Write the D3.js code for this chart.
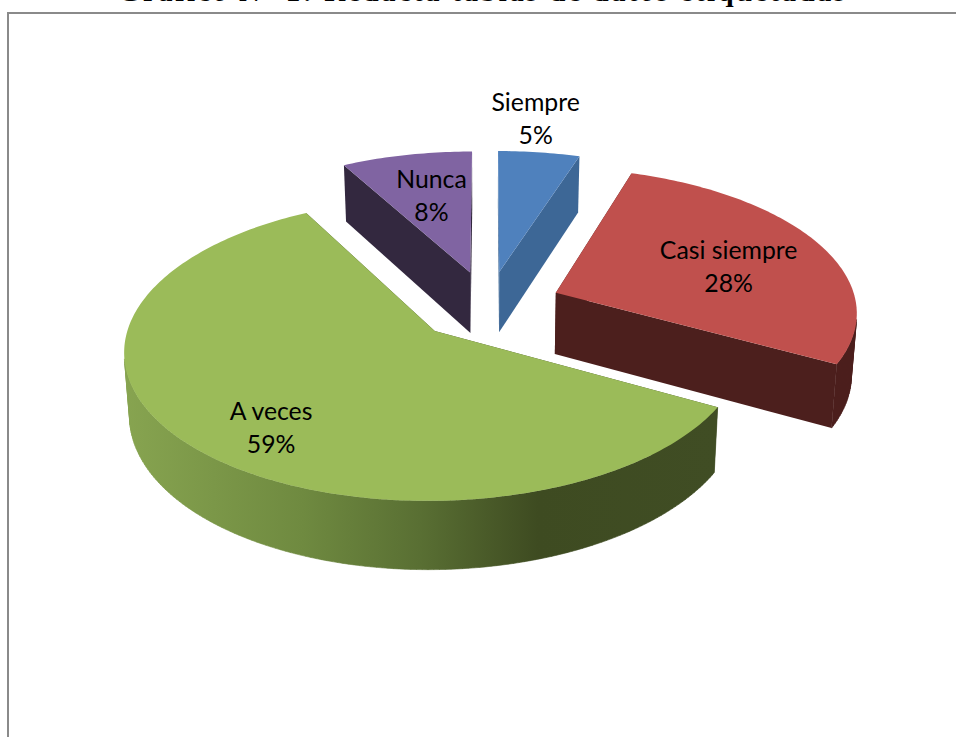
<!DOCTYPE html>
<html lang="es">
<head>
<meta charset="utf-8">
<title>Gráfico</title>
<script src="https://cdn.jsdelivr.net/npm/d3@7/dist/d3.min.js"></script>
<style>
  html, body { margin: 0; padding: 0; background: #fff; overflow: hidden; }
  svg { display: block; }
</style>
</head>
<body>
<svg id="chart" width="956" height="737"></svg>
<script>
// Survey answers, in clockwise order from twelve o'clock
const categories = ["Siempre", "Casi siempre", "A veces", "Nunca"];
const percentages = [5, 28, 59, 8];

// Colours of each slice: top face and side wall
const topColors = ["#4f81bd", "#c0504d", "#9bbb59", "#8064a2"];
const wallColors = ["#3d6796", "#4c1f1d", "url(#greenWall)", "#33283f"];

// Label centres on the pie plane, in units of one pie radius
const labelPlaneU = [0.188, 0.827, -0.654, -0.207];
const labelPlaneV = [1.554, 0.286, -0.770, 0.856];

const titleText = "Gráfico N° 1: Redacta tablas de datos etiquetadas";

// Camera: pie plane seen at an angle, with mild perspective
const centerX = 488, centerY = 305.6;
const radiusX = 301, radiusY = 143;
const perspective = 0.12;
const depth = 62.5, depthShrink = 0.015;
const explode = 0.245;

const svg = d3.select("#chart");
const xScale = d3.scaleLinear().domain([0, 1]).range([0, radiusX]);
const yScale = d3.scaleLinear().domain([0, 1]).range([0, radiusY]);

// Plane (u, v) with v pointing away from the viewer; z = 1 is the underside
function project(u, v, z) {
  const den = (1 + perspective * v) * (1 + depthShrink * z);
  return [centerX + xScale(u) / den, centerY + (z * depth - yScale(v)) / den];
}

const pieAngles = d3.pie().sort(null).value(d => d)(percentages);
const line = d3.line();

const defs = svg.append("defs");
const wallGradient = defs.append("linearGradient")
  .attr("id", "greenWall")
  .attr("gradientUnits", "userSpaceOnUse")
  .attr("x1", 125).attr("x2", 715).attr("y1", 0).attr("y2", 0);
[[0, "#87a450"], [0.3, "#6f8a40"], [0.5, "#596f33"], [0.7, "#3e4b21"], [1, "#404d24"]]
  .forEach(([o, c]) => wallGradient.append("stop").attr("offset", o).attr("stop-color", c));

function rimPoints(slice, offU, offV, z) {
  const count = Math.max(8, Math.round((slice.endAngle - slice.startAngle) * 60));
  return d3.range(count + 1).map(i => {
    const t = slice.startAngle + (slice.endAngle - slice.startAngle) * i / count;
    return project(offU + Math.sin(t), offV + Math.cos(t), z);
  });
}

const slices = pieAngles.map((slice, i) => {
  const mid = (slice.startAngle + slice.endAngle) / 2;
  return { slice, i, offU: explode * Math.sin(mid), offV: explode * Math.cos(mid) };
});

const groups = svg.selectAll("g.slice")
  .data([slices[3], slices[0], slices[1], slices[2]])
  .join("g")
  .attr("class", "slice");

groups.each(function (d) {
  const g = d3.select(this);
  const rimTop = rimPoints(d.slice, d.offU, d.offV, 0);
  const rimBottom = rimPoints(d.slice, d.offU, d.offV, 1);
  const apexTop = project(d.offU, d.offV, 0);
  const apexBottom = project(d.offU, d.offV, 1);
  const wall = wallColors[d.i];
  const radialFill = d.i === 2 ? "#3e4b21" : wall;

  // Flat walls along both cut edges
  [[rimTop[0], rimBottom[0]], [rimTop[rimTop.length - 1], rimBottom[rimBottom.length - 1]]]
    .forEach(([a, b]) => {
      g.append("path")
        .attr("d", line([apexTop, a, b, apexBottom]) + "Z")
        .attr("fill", radialFill);
    });

  // Curved outer wall: only the facets that turn toward the viewer
  const facets = d3.pairs(d3.range(rimTop.length))
    .map(([a, b]) => [rimTop[a], rimTop[b], rimBottom[b], rimBottom[a]])
    .filter(quad => d3.polygonArea(quad) > 0)
    .map(quad => line(quad) + "Z");
  if (facets.length) {
    g.append("path")
      .attr("d", facets.join(""))
      .attr("fill", wall)
      .attr("stroke", wall)
      .attr("stroke-width", 0.6);
  }

  // Top face
  g.append("path")
    .attr("d", line([apexTop].concat(rimTop)) + "Z")
    .attr("fill", topColors[d.i]);
});

// Two-line labels: category and percentage
const labels = svg.selectAll("text.label")
  .data(categories)
  .join("text")
  .attr("class", "label")
  .attr("font-family", "Lato, 'Open Sans', sans-serif")
  .attr("font-size", 24.8)
  .attr("fill", "#000")
  .attr("text-anchor", "middle");

labels.each(function (name, i) {
  const [x, y] = project(labelPlaneU[i], labelPlaneV[i], 0);
  const t = d3.select(this);
  t.append("tspan").attr("x", x).attr("y", y - 7).text(name);
  t.append("tspan").attr("x", x).attr("y", y + 26).text(percentages[i] + "%");
});

// Chart frame: only the top and left rules are in view
svg.append("path")
  .attr("d", line([[8, 737], [8, 13], [956, 13]]))
  .attr("fill", "none")
  .attr("stroke", "#8a8a8a")
  .attr("stroke-width", 2);

// Heading above the frame, mostly outside the page
svg.append("text")
  .attr("x", 118)
  .attr("y", 0.8)
  .attr("font-family", "'Liberation Serif', serif")
  .attr("font-weight", "bold")
  .attr("font-size", 29)
  .attr("textLength", 727)
  .attr("lengthAdjust", "spacing")
  .attr("fill", "#000")
  .text(titleText);
</script>
</body>
</html>
